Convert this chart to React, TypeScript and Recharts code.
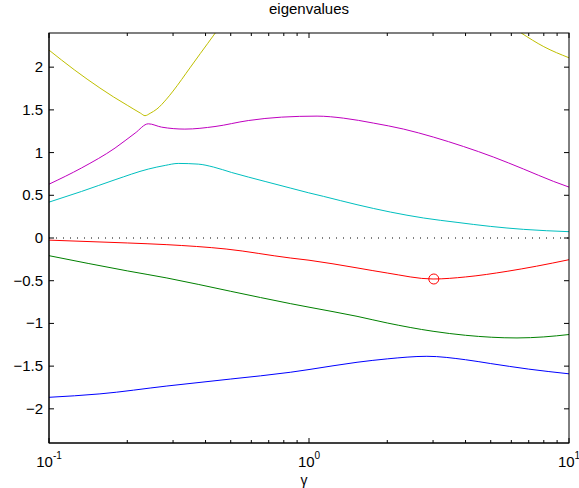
import React from 'react';
import {
  ComposedChart,
  Line,
  XAxis,
  YAxis,
  ReferenceLine,
  ReferenceDot,
} from 'recharts';

// ---- data (gamma, eigenvalue) ----
const yellowData = [
  { g: 0.1, v: 2.2 }, { g: 0.125, v: 1.97 }, { g: 0.157, v: 1.756 }, { g: 0.177, v: 1.652 },
  { g: 0.2, v: 1.554 }, { g: 0.225, v: 1.461 }, { g: 0.234, v: 1.432 }, { g: 0.245, v: 1.46 },
  { g: 0.26, v: 1.51 }, { g: 0.283, v: 1.625 }, { g: 0.3, v: 1.72 }, { g: 0.35, v: 2.0 },
  { g: 0.382, v: 2.16 }, { g: 0.436, v: 2.4 }, { g: 0.5, v: 2.66 }, { g: 0.6, v: 2.95 },
  { g: 0.8, v: 3.3 }, { g: 1.2, v: 3.5 }, { g: 2, v: 3.4 }, { g: 3, v: 3.1 },
  { g: 4, v: 2.85 }, { g: 5, v: 2.65 }, { g: 6.55, v: 2.4 }, { g: 8, v: 2.24 }, { g: 10, v: 2.11 },
];
const magentaData = [
  { g: 0.1, v: 0.63 }, { g: 0.1334, v: 0.82 }, { g: 0.1795, v: 1.053 }, { g: 0.2144, v: 1.228 },
  { g: 0.241, v: 1.337 }, { g: 0.271, v: 1.298 }, { g: 0.333, v: 1.275 }, { g: 0.435, v: 1.305 },
  { g: 0.584, v: 1.375 }, { g: 0.784, v: 1.415 }, { g: 1.074, v: 1.427 }, { g: 1.359, v: 1.403 },
  { g: 1.772, v: 1.345 }, { g: 2.312, v: 1.275 }, { g: 3.013, v: 1.181 }, { g: 3.93, v: 1.071 },
  { g: 5.13, v: 0.947 }, { g: 6.69, v: 0.807 }, { g: 8.73, v: 0.662 }, { g: 10, v: 0.596 },
];
const cyanData = [
  { g: 0.1, v: 0.42 }, { g: 0.1334, v: 0.545 }, { g: 0.1795, v: 0.682 }, { g: 0.241, v: 0.807 },
  { g: 0.28, v: 0.85 }, { g: 0.314, v: 0.873 }, { g: 0.375, v: 0.865 }, { g: 0.43, v: 0.83 },
  { g: 0.504, v: 0.767 }, { g: 0.678, v: 0.662 }, { g: 0.847, v: 0.585 }, { g: 0.994, v: 0.53 },
  { g: 1.138, v: 0.487 }, { g: 1.53, v: 0.39 }, { g: 2.055, v: 0.304 }, { g: 2.76, v: 0.234 },
  { g: 3.71, v: 0.183 }, { g: 4.98, v: 0.136 }, { g: 6.69, v: 0.101 }, { g: 10, v: 0.074 },
];
const redData = [
  { g: 0.1, v: -0.025 }, { g: 0.2, v: -0.058 }, { g: 0.284, v: -0.078 }, { g: 0.48, v: -0.129 },
  { g: 0.847, v: -0.234 }, { g: 1, v: -0.26 }, { g: 1.53, v: -0.35 }, { g: 2, v: -0.41 },
  { g: 3, v: -0.48 }, { g: 4, v: -0.456 }, { g: 5.78, v: -0.39 }, { g: 7.5, v: -0.33 },
  { g: 10, v: -0.254 },
];
const greenData = [
  { g: 0.1, v: -0.207 }, { g: 0.2, v: -0.385 }, { g: 0.284, v: -0.468 }, { g: 0.5, v: -0.624 },
  { g: 0.847, v: -0.768 }, { g: 1, v: -0.81 }, { g: 1.53, v: -0.917 }, { g: 2, v: -0.995 },
  { g: 3, v: -1.092 }, { g: 4, v: -1.139 }, { g: 6.31, v: -1.17 }, { g: 8, v: -1.158 },
  { g: 10, v: -1.13 },
];
const blueData = [
  { g: 0.1, v: -1.865 }, { g: 0.157, v: -1.825 }, { g: 0.284, v: -1.733 }, { g: 0.5, v: -1.651 },
  { g: 0.847, v: -1.572 }, { g: 1, v: -1.54 }, { g: 1.53, v: -1.455 }, { g: 2, v: -1.415 },
  { g: 2.84, v: -1.385 }, { g: 4, v: -1.425 }, { g: 5, v: -1.47 }, { g: 7, v: -1.535 },
  { g: 10, v: -1.59 },
];
const markerPoint = { g: 3.02, v: -0.48 };

const xTicks = [0.1, 0.2, 0.3, 0.4, 0.5, 0.6, 0.7, 0.8, 0.9, 1, 2, 3, 4, 5, 6, 7, 8, 9, 10];
const yTicks = [-2, -1.5, -1, -0.5, 0, 0.5, 1, 1.5, 2];
const xDomain = [0.1, 10];
const yDomain = [-2.4, 2.4];

const W = 579;
const H = 488;
const MARGIN = { top: 33, right: 10, bottom: 15, left: 9 };
const Y_AXIS_W = 40;
const X_AXIS_H = 30;
const PLOT_LEFT = MARGIN.left + Y_AXIS_W;
const PLOT_RIGHT = W - MARGIN.right;
const PLOT_TOP = MARGIN.top;
const PLOT_BOTTOM = H - MARGIN.bottom - X_AXIS_H;
const FONT = '"Liberation Sans", Arial, Helvetica, sans-serif';

const XTick = (props: any) => {
  const { x, payload } = props;
  const val = payload.value as number;
  const exp = Math.log10(val);
  const major = Math.abs(exp - Math.round(exp)) < 1e-9;
  const len = major ? 5 : 3;
  const isFirst = val === xDomain[0];
  return (
    <g>
      {isFirst && (
        <rect
          x={PLOT_LEFT}
          y={PLOT_TOP}
          width={PLOT_RIGHT - PLOT_LEFT}
          height={PLOT_BOTTOM - PLOT_TOP}
          fill="none"
          stroke="#000"
          strokeWidth={1}
        />
      )}
      <line x1={x} x2={x} y1={PLOT_BOTTOM} y2={PLOT_BOTTOM - len} stroke="#000" strokeWidth={1} />
      <line x1={x} x2={x} y1={PLOT_TOP} y2={PLOT_TOP + len} stroke="#000" strokeWidth={1} />
      {major && (
        <text x={x} y={PLOT_BOTTOM + 24} textAnchor="middle" fontFamily={FONT} fontSize={15} fill="#000">
          10
          <tspan dy={-8} fontSize={10}>{String(Math.round(exp))}</tspan>
        </text>
      )}
    </g>
  );
};

const YTick = (props: any) => {
  const { x, y, payload } = props;
  const val = payload.value as number;
  const label = val < 0 ? '\u2212' + String(Math.abs(val)) : String(val);
  return (
    <g>
      <line x1={PLOT_LEFT} x2={PLOT_LEFT + 5} y1={y} y2={y} stroke="#000" strokeWidth={1} />
      <line x1={PLOT_RIGHT - 5} x2={PLOT_RIGHT} y1={y} y2={y} stroke="#000" strokeWidth={1} />
      <text x={x} y={y + 5} textAnchor="end" fontFamily={FONT} fontSize={15} fill="#000">
        {label}
      </text>
    </g>
  );
};

const series = [
  { data: yellowData, color: '#BFBF00', key: 'yellow' },
  { data: magentaData, color: '#BF00BF', key: 'magenta' },
  { data: cyanData, color: '#00BFBF', key: 'cyan' },
  { data: redData, color: '#FF0000', key: 'red' },
  { data: greenData, color: '#008000', key: 'green' },
  { data: blueData, color: '#0000FF', key: 'blue' },
];

export default function App() {
  return (
    <div style={{ position: 'absolute', left: 0, top: 0, width: W, height: H, background: '#fff' }}>
      <ComposedChart width={W} height={H} margin={MARGIN}>
        <XAxis
          dataKey="g"
          type="number"
          scale="log"
          domain={xDomain}
          ticks={xTicks}
          interval={0}
          allowDataOverflow
          tickLine={false}
          axisLine={{ stroke: '#000' }}
          tickSize={0}
          height={X_AXIS_H}
          tick={<XTick />}
        />
        <YAxis
          type="number"
          domain={yDomain}
          ticks={yTicks}
          interval={0}
          allowDataOverflow
          tickLine={false}
          axisLine={{ stroke: '#000' }}
          tickSize={0}
          tickMargin={6}
          width={Y_AXIS_W}
          tick={<YTick />}
        />
        <ReferenceLine y={0} stroke="#000" strokeDasharray="1 6" strokeWidth={1} />
        {series.map((s) => (
          <Line
            key={s.key}
            data={s.data}
            dataKey="v"
            type="monotone"
            stroke={s.color}
            strokeWidth={1}
            dot={false}
            activeDot={false}
            isAnimationActive={false}
          />
        ))}
        <ReferenceDot
          x={markerPoint.g}
          y={markerPoint.v}
          r={5}
          fill="none"
          stroke="#FF0000"
          strokeWidth={1}
        />
      </ComposedChart>
      <div
        style={{
          position: 'absolute', left: 259, width: 100, top: 0, textAlign: 'center',
          fontFamily: FONT, fontSize: 15, lineHeight: '17px',
        }}
      >
        eigenvalues
      </div>
      <div
        style={{
          position: 'absolute', left: 294, width: 20, top: 476, textAlign: 'center',
          fontFamily: FONT, fontSize: 14, lineHeight: '8px',
        }}
      >
        γ
      </div>
    </div>
  );
}
